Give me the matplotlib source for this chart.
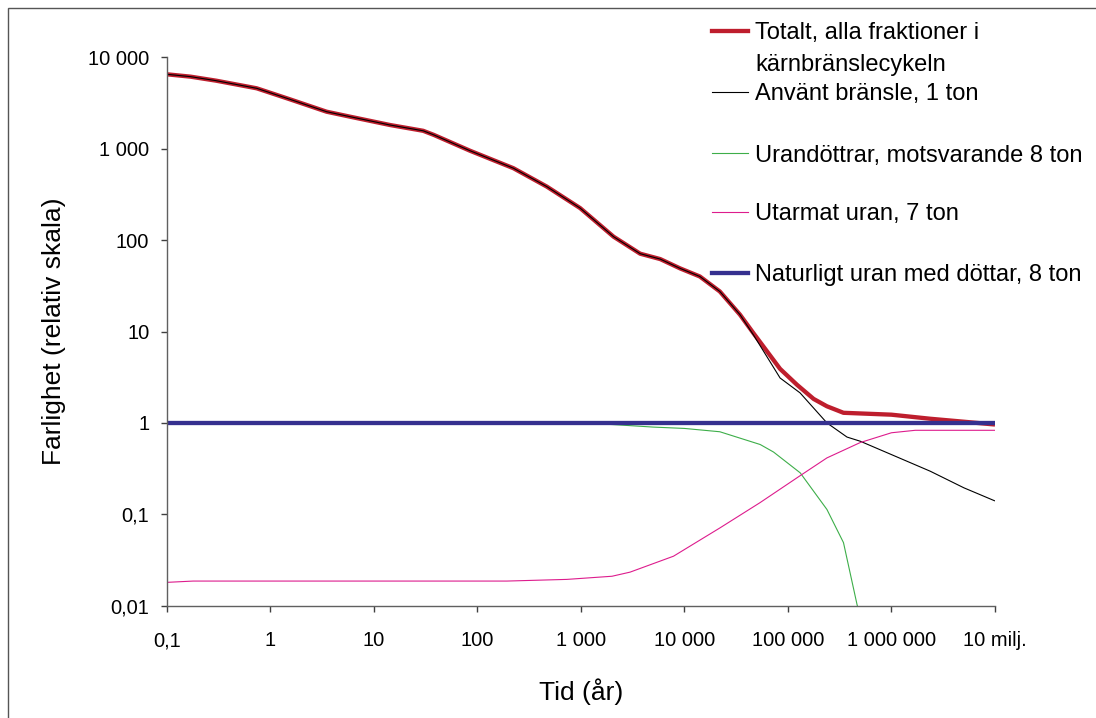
import matplotlib
matplotlib.use("Agg")
import matplotlib.pyplot as plt
from matplotlib.lines import Line2D
from matplotlib.patches import Rectangle

plt.rcParams['font.family'] = ['Liberation Sans', 'DejaVu Sans']

# tid (år) och farlighet för varje kurva
t_totalt = [0.1, 0.17, 0.3, 0.74, 1.55, 3.5, 5.9, 14.4, 30, 38, 85, 223, 469, 984,
            2070, 3740, 5840, 9100, 14100, 22000, 34400, 46400, 84000, 122000,
            177000, 238000, 344000, 1e6, 2.37e6, 5e6, 1e7]
totalt = [6520, 6140, 5550, 4580, 3470, 2540, 2240, 1815, 1570, 1416, 950, 612, 385, 224,
          109, 71, 62, 49, 40, 27.4, 15.3, 9.6, 3.9, 2.62,
          1.83, 1.52, 1.29, 1.23, 1.11, 1.03, 0.96]

t_anvant = [0.1, 0.17, 0.3, 0.74, 1.55, 3.5, 5.9, 14.4, 30, 38, 85, 223, 469, 984,
            2070, 3740, 5840, 9100, 14100, 22000, 34400, 46400, 84000, 131000,
            238000, 372000, 500000, 1e6, 2.37e6, 5e6, 1e7]
anvant = [6520, 6140, 5550, 4580, 3470, 2540, 2240, 1815, 1570, 1416, 950, 612, 385, 224,
          109, 71, 62, 49, 40, 27.4, 15.3, 9.2, 3.1, 2.13,
          1.0, 0.70, 0.63, 0.45, 0.296, 0.195, 0.14]

t_dottrar = [0.1, 1000, 2000, 5000, 10000, 22000, 54000, 72600, 131500, 238000,
             344000, 465000, 600000]
dottrar = [1.0, 0.99, 0.96, 0.90, 0.87, 0.80, 0.58, 0.48, 0.284, 0.113,
           0.049, 0.0103, 0.0035]

t_utarmat = [0.1, 0.18, 193, 733, 2000, 2990, 7850, 22100, 53700, 131500,
             238000, 500000, 1e6, 1.7e6, 1e7]
utarmat = [0.018, 0.0186, 0.0186, 0.0194, 0.021, 0.0233, 0.0348, 0.0711, 0.134, 0.265,
           0.414, 0.61, 0.78, 0.83, 0.83]

t_naturligt = [0.1, 1e7]
naturligt = [1, 1]

x_ticks = [0.1, 1, 10, 100, 1e3, 1e4, 1e5, 1e6, 1e7]
x_labels = ['0,1', '1', '10', '100', '1 000', '10 000', '100 000', '1 000 000', '10 milj.']
y_ticks = [0.01, 0.1, 1, 10, 100, 1e3, 1e4]
y_labels = ['0,01', '0,1', '1', '10', '100', '1 000', '10 000']

serier = [
    ('Totalt, alla fraktioner i\nkärnbränslecykeln', t_totalt, totalt, '#BE1E2D', 3.1),
    ('Använt bränsle, 1 ton', t_anvant, anvant, '#000000', 0.8),
    ('Urandöttrar, motsvarande 8 ton', t_dottrar, dottrar, '#3DAE49', 0.8),
    ('Utarmat uran, 7 ton', t_utarmat, utarmat, '#DD1C8D', 0.8),
    ('Naturligt uran med döttar, 8 ton', t_naturligt, naturligt, '#35308F', 3.1),
]

W, H = 1096, 718
fig = plt.figure(figsize=(W / 100, H / 100), dpi=100)

# ram runt hela bilden
fig.add_artist(Rectangle((7.7 / W, -0.05), 1.2, 1 - 8.3 / H + 0.05,
                         transform=fig.transFigure, fill=False,
                         edgecolor='#555555', linewidth=1.0))

ax = fig.add_axes([166.7 / W, (H - 605.7) / H, (995 - 166.7) / W, (605.7 - 57.3) / H])
ax.set_xscale('log')
ax.set_yscale('log')

for namn, t, v, farg, lw in serier:
    ax.plot(t, v, color=farg, linewidth=lw, solid_joinstyle='round', solid_capstyle='butt')

ax.set_xlim(0.1, 1e7)
ax.set_ylim(0.01, 1e4)
ax.set_xticks(x_ticks)
ax.set_xticklabels(x_labels)
ax.set_yticks(y_ticks)
ax.set_yticklabels(y_labels)
ax.minorticks_off()

for s in ['top', 'right']:
    ax.spines[s].set_visible(False)
for s in ['left', 'bottom']:
    ax.spines[s].set_color('#606060')
    ax.spines[s].set_linewidth(1.0)

ax.tick_params(axis='both', direction='out', length=4.5, width=1.0, color='#404040',
               labelsize=14.5, labelcolor='black')
ax.tick_params(axis='x', pad=14)
ax.tick_params(axis='y', pad=8)

ax.set_xlabel('Tid (år)', fontsize=19, labelpad=20)
ax.set_ylabel('Farlighet (relativ skala)', fontsize=19, labelpad=16)

# teckenförklaring till höger
rader = [31, 91.7, 153.3, 211.7, 272.7]
for (namn, t, v, farg, lw), y in zip(serier, rader):
    fig.add_artist(Line2D([711.7 / W, 748.3 / W], [1 - y / H, 1 - y / H],
                          transform=fig.transFigure, color=farg, linewidth=lw))
    for i, rad in enumerate(namn.split('\n')):
        bas = y + 8.5 + i * 31
        fig.text(755 / W, 1 - bas / H, rad, fontsize=17, va='baseline', ha='left')

fig.savefig('out.png', dpi=100)
